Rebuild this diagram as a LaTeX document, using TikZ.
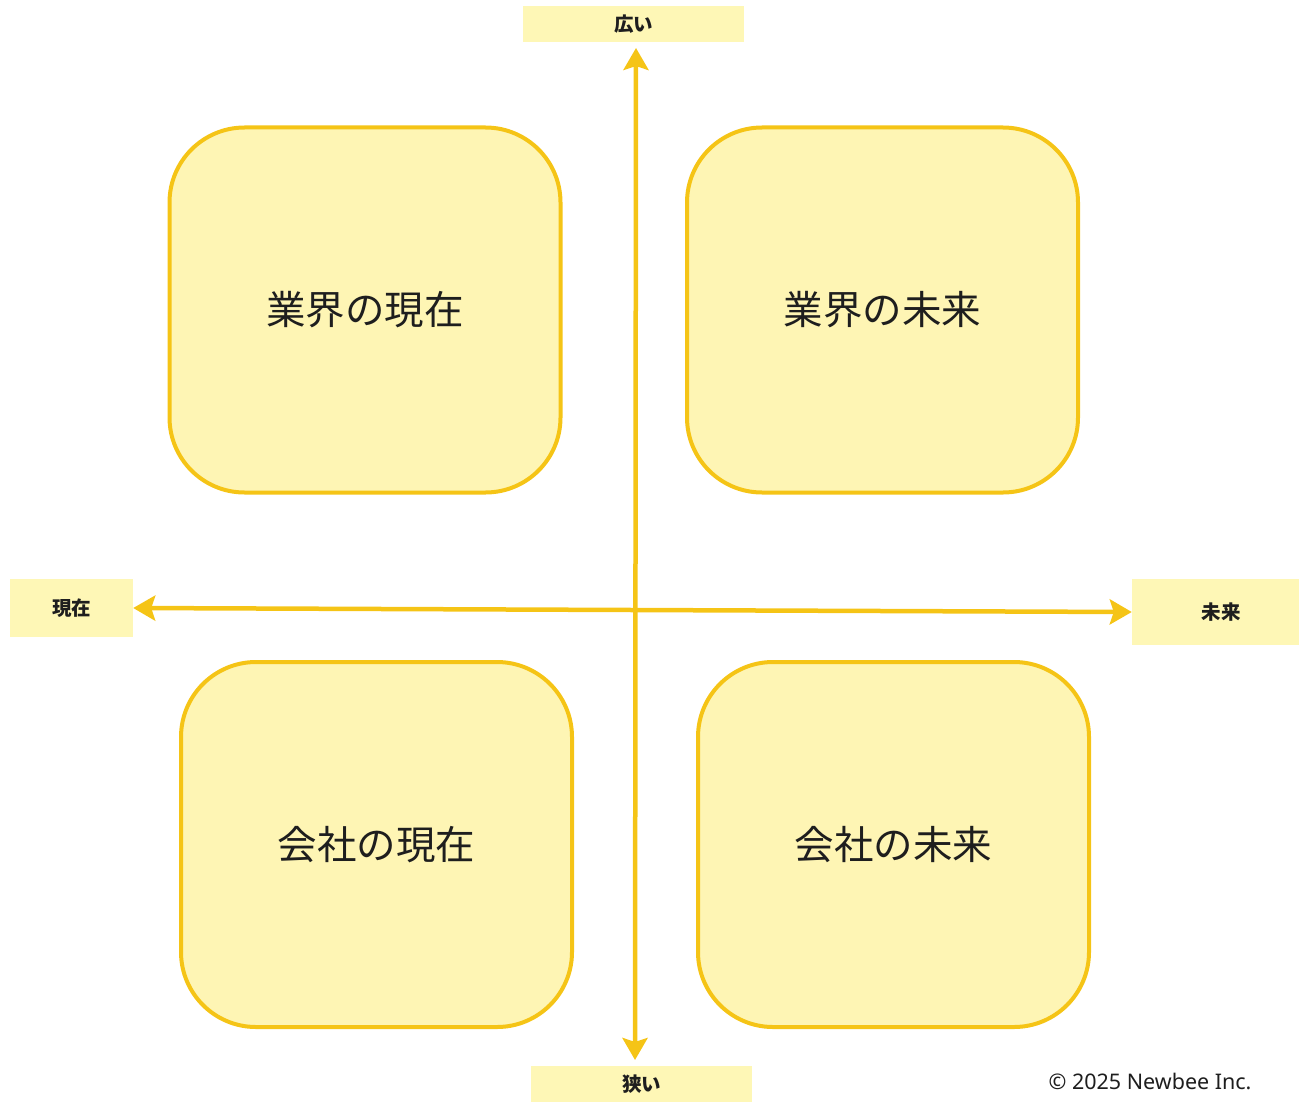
\documentclass[tikz,border=0pt]{standalone}
\usepackage{fontspec}
\setmainfont{Noto Sans CJK JP}
\newfontfamily\copyfont{Noto Sans}
\usetikzlibrary{arrows.meta}
\definecolor{boxfill}{RGB}{254,245,180}
\definecolor{boxline}{RGB}{245,196,22}
\definecolor{labfill}{RGB}{254,247,182}
\definecolor{txt}{RGB}{30,30,30}
\tikzset{
  quad/.style={draw=boxline, fill=boxfill, line width=4pt, rounded corners=75pt,
    minimum width=391pt, minimum height=365pt, inner sep=0pt, text=txt,
    font=\fontsize{39.5pt}{42pt}\selectfont},
  axislab/.style={fill=labfill, inner sep=0pt, text=txt,
    font=\bfseries\fontsize{19.5pt}{21pt}\selectfont},
  axis/.style={draw=boxline, line width=4.5pt,
    {Stealth[length=22pt,width=25pt,inset=4pt]}-{Stealth[length=22pt,width=25pt,inset=4pt]}}
}
\begin{document}
\begin{tikzpicture}[x=1pt,y=-1pt]
\useasboundingbox (0,0) rectangle (1300,1113);
% axis labels
\node[axislab, minimum width=221pt, minimum height=36pt] (wide) at (633.5,24.5) {広い};
\node[axislab, minimum width=221pt, minimum height=36pt] (narrow) at (641.5,1084) {狭い};
\node[axislab, minimum width=123pt, minimum height=58pt] (now) at (71.5,608) {現在};
\node[axislab, minimum width=167pt, minimum height=66pt] (future) at (1215.5,612) {\hspace*{11pt}未来};
% axes
\coordinate (vtop) at (636,48);
\coordinate (vbot) at (635,1060);
\draw[axis] (now.east) -- (future.west);
\draw[axis] (vtop) -- (vbot);
% quadrants
\node[quad] (q1) at (365,310) {業界の現在};
\node[quad] (q2) at (882.5,310) {業界の未来};
\node[quad] (q3) at (376.5,844.5) {会社の現在};
\node[quad] (q4) at (893.5,844.5) {会社の未来};
% copyright
\node[anchor=east, text=txt, font=\copyfont\fontsize{21.5pt}{23pt}\selectfont] (copy) at (1255,1081) {© 2025 Newbee Inc.};
\end{tikzpicture}
\end{document}
